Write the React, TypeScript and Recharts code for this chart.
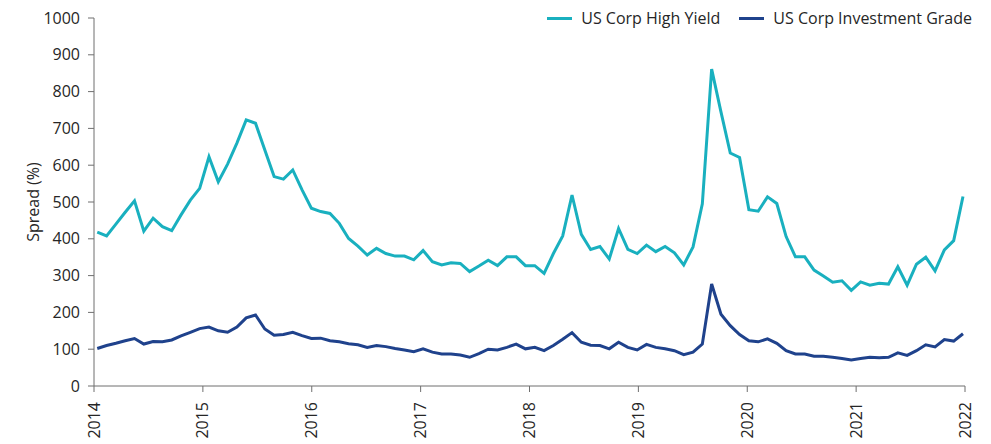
import React from 'react';
import { LineChart, Line, XAxis, YAxis } from 'recharts';

// monthly-ish spread readings, Jan 2014 -> Jan 2022
const YEARS = [2014, 2015, 2016, 2017, 2018, 2019, 2020, 2021, 2022];
const Y_TICKS = [0, 100, 200, 300, 400, 500, 600, 700, 800, 900, 1000];

const HIGH_YIELD = [
  418, 408, 440, 472, 503, 421, 456, 433, 422, 465, 505, 537,
  623, 555, 603, 660, 723, 714, 641, 569, 562, 587, 533, 483,
  474, 469, 442, 401, 380, 356, 374, 360, 353, 353, 343, 368,
  338, 329, 335, 333, 311, 326, 342, 327, 351, 351, 327, 327,
  306, 360, 408, 519, 412, 371, 379, 345, 428, 371, 360, 383,
  365, 379, 362, 329, 378, 495, 861, 745, 633, 621, 479, 475,
  514, 496, 406, 351, 351, 315, 299, 282, 286, 260, 283, 274,
  279, 277, 324, 274, 331, 350, 313, 370, 395, 515,
];

const INVESTMENT_GRADE = [
  102, 110, 116, 123, 129, 114, 121, 120, 125, 136, 146, 156,
  160, 150, 146, 160, 185, 193, 155, 138, 140, 146, 137, 129,
  130, 123, 120, 115, 112, 105, 110, 107, 102, 98, 93, 101,
  92, 87, 87, 84, 78, 88, 100, 98, 105, 114, 101, 105,
  96, 110, 127, 145, 119, 111, 110, 101, 119, 105, 98, 113,
  105, 101, 96, 85, 92, 114, 277, 195, 164, 140, 123, 120,
  128, 116, 96, 87, 87, 81, 81, 78, 75, 71, 75, 78,
  77, 78, 90, 83, 96, 112, 106, 126, 122, 142,
];

const SERIES = [
  { key: 'hy', name: 'US Corp High Yield', color: '#19b0bf' },
  { key: 'ig', name: 'US Corp Investment Grade', color: '#1f428c' },
];

// readings start just after the 2014 tick and are ~31 days apart
const START = 2014.03;
const STEP = 0.0855;

const data = HIGH_YIELD.map((hy, i) => ({
  t: START + i * STEP,
  hy,
  ig: INVESTMENT_GRADE[i],
}));

const FONT = '"Open Sans", sans-serif';
const AXIS = '#6f6f6f';
const TEXT = '#262626';
const FS = 16;

function YearTick({ x, y, payload }: any) {
  return (
    <text
      x={x}
      y={y + 8}
      dy="0.35em"
      textAnchor="end"
      fill={TEXT}
      fontSize={FS}
      transform={`rotate(-90, ${x}, ${y + 8})`}
    >
      {payload.value}
    </text>
  );
}

export default function App() {
  return (
    <div style={{ position: 'absolute', left: 0, top: 0, width: 991, height: 444, fontFamily: FONT, background: '#fff' }}>
      <div
        style={{
          position: 'absolute',
          top: 7,
          right: 19,
          display: 'flex',
          alignItems: 'center',
          gap: 19,
          fontSize: FS,
          color: TEXT,
          zIndex: 2,
        }}
      >
        {SERIES.map((s) => (
          <div key={s.key} style={{ display: 'flex', alignItems: 'center', gap: 9 }}>
            <span style={{ display: 'inline-block', width: 25, height: 3, background: s.color }} />
            <span>{s.name}</span>
          </div>
        ))}
      </div>
      <LineChart width={991} height={444} data={data} margin={{ top: 18, right: 26, bottom: 0, left: 0 }}>
        <XAxis
          dataKey="t"
          type="number"
          domain={[2014, 2022]}
          ticks={YEARS}
          interval={0}
          height={58}
          stroke={AXIS}
          tickLine={{ stroke: AXIS }}
          tick={<YearTick />}
        />
        <YAxis
          domain={[0, 1000]}
          ticks={Y_TICKS}
          interval={0}
          width={94}
          stroke={AXIS}
          tickMargin={8}
          tick={{ fill: TEXT, fontSize: FS }}
          label={{
            value: 'Spread (%)',
            angle: -90,
            position: 'insideLeft',
            offset: 33,
            style: { textAnchor: 'middle', fill: TEXT, fontSize: FS },
          }}
        />
        {SERIES.map((s) => (
          <Line
            key={s.key}
            dataKey={s.key}
            name={s.name}
            stroke={s.color}
            strokeWidth={3}
            dot={false}
            type="linear"
            isAnimationActive={false}
          />
        ))}
      </LineChart>
    </div>
  );
}
